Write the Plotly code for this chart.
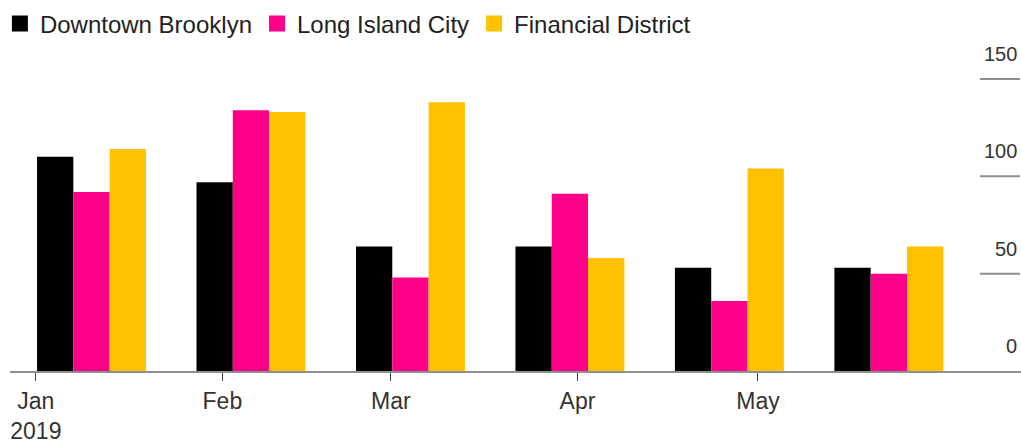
import plotly.graph_objects as go

# ---- data ----
periods = ["2019-01-10 06:00", "2019-02-05 18:00", "2019-03-04 06:00",
           "2019-03-30 18:00", "2019-04-26 06:00", "2019-05-22 18:00"]
downtown_brooklyn = [110, 97, 64, 64, 53, 53]
long_island_city = [92, 134, 48, 91, 36, 50]
financial_district = [114, 133, 138, 58, 104, 64]
series_names = ["Downtown Brooklyn", "Long Island City", "Financial District"]
x_tick_dates = ["2019-01-01", "2019-02-01", "2019-03-01", "2019-04-01", "2019-05-01"]
x_tick_labels = ["Jan<br>2019", "Feb", "Mar", "Apr", "May"]
y_ticks = [0, 50, 100, 150]

colors = ["#000000", "#ff0089", "#ffc100"]
series = [downtown_brooklyn, long_island_city, financial_district]

fig = go.Figure()
for name, vals, col in zip(series_names, series, colors):
    fig.add_trace(go.Bar(x=periods, y=vals, name=name, marker=dict(color=col, line=dict(width=0)),
                         showlegend=False))
    fig.add_trace(go.Scatter(x=[None], y=[None], mode="markers", name=name,
                             marker=dict(symbol="square", size=16, color=col)))

fig.update_layout(
    width=1021, height=444,
    margin=dict(l=10, r=0, t=50, b=73, autoexpand=False),
    paper_bgcolor="white", plot_bgcolor="white",
    barmode="group", bargap=0.317, bargroupgap=0,
    font=dict(family="Liberation Sans, Arial, sans-serif", color="#333333"),
    legend=dict(orientation="h", x=-0.01, xanchor="left", y=1.081, yref="paper",
                yanchor="middle", font=dict(size=24, color="#222222"),
                itemsizing="trace", traceorder="normal", tracegroupgap=0),
    xaxis=dict(type="date", range=["2018-12-27 17:00", "2019-06-13 17:00"],
               tickmode="array", tickvals=x_tick_dates, ticktext=x_tick_labels,
               showgrid=False, automargin=False,
               showline=True, linecolor="#8f8f8f", linewidth=2,
               ticks="outside", ticklen=8, tickcolor="#444444", tickwidth=1,
               tickfont=dict(size=23, color="#333333"), zeroline=False),
    yaxis=dict(range=[0, 164.9], showgrid=False, zeroline=False, automargin=False,
               showticklabels=False, ticks=""),
)

for v in y_ticks:
    if v > 0:
        fig.add_shape(type="line", xref="paper", yref="y", x0=0.9594, x1=0.999, y0=v, y1=v,
                      line=dict(color="#8c8c8c", width=2))
    fig.add_annotation(xref="paper", yref="y", x=0.9985, y=v, text=str(v), showarrow=False,
                       xanchor="right", yanchor="bottom", yshift=12,
                       font=dict(size=20, color="#333333"))

# remove the browser's default 8px body margin so the 1021x444 figure fills the window
fig.write_html("out.html", config={"displayModeBar": False},
               post_script="document.body.style.margin='0';")
